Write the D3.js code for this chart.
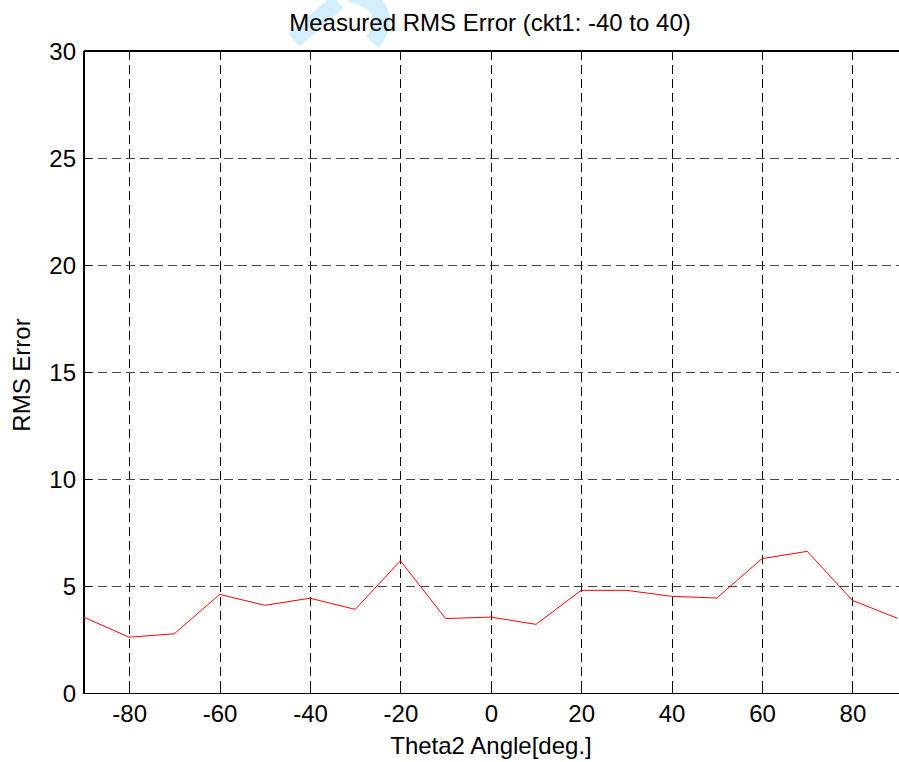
<!DOCTYPE html>
<html>
<head>
<meta charset="utf-8">
<script src="https://cdn.jsdelivr.net/npm/d3@7"></script>
<style>
  html, body { margin: 0; padding: 0; background: #fff; }
  svg { display: block; font-family: "Liberation Sans", Arial, sans-serif; }
</style>
</head>
<body>
<svg id="chart" width="899" height="762"></svg>
<script>
const angles = [-90, -80, -70, -60, -50, -40, -30, -20, -10, 0, 10, 20, 30, 40, 50, 60, 70, 80, 90];
const rmsError = [3.55, 2.62, 2.78, 4.62, 4.11, 4.44, 3.92, 6.19, 3.49, 3.56, 3.22, 4.81, 4.81, 4.53, 4.45, 6.29, 6.63, 4.34, 3.50];
const xTicks = [-80, -60, -40, -20, 0, 20, 40, 60, 80];
const yTicks = [0, 5, 10, 15, 20, 25, 30];
const titleText = "Measured RMS Error (ckt1: -40 to 40)";
const xLabel = "Theta2 Angle[deg.]";
const yLabel = "RMS Error";

const svg = d3.select("#chart");
const pL = 84, pR = 897.6, pT = 51, pB = 693.3;
const FS = 24;

const x = d3.scaleLinear().domain([-90, 90]).range([pL, pR]);
const y = d3.scaleLinear().domain([0, 30]).range([pB, pT]);

// watermark
svg.append("path")
  .attr("d", "M294,40 L338,2 M350,-6 C380,0 392,20 372,42")
  .attr("fill", "none")
  .attr("stroke", "#d3effc")
  .attr("stroke-width", 17);

// grid
const grid = svg.append("g").attr("shape-rendering", "crispEdges");
grid.selectAll(".vg").data(xTicks).enter().append("line")
  .attr("x1", d => Math.round(x(d)) + 0.5).attr("x2", d => Math.round(x(d)) + 0.5)
  .attr("y1", pT).attr("y2", pB)
  .attr("stroke", "#000").attr("stroke-width", 1).attr("stroke-dasharray", "9,5");
grid.selectAll(".hg").data(yTicks.filter(d => d > 0 && d < 30)).enter().append("line")
  .attr("y1", d => Math.round(y(d)) + 0.5).attr("y2", d => Math.round(y(d)) + 0.5)
  .attr("x1", pL).attr("x2", 899)
  .attr("stroke", "#444").attr("stroke-width", 1).attr("stroke-dasharray", "9,5");

// axes with inward ticks
const fmt = d => String(d);
const xAxisB = d3.axisBottom(x).tickValues(xTicks).tickSize(-8).tickPadding(12).tickFormat(fmt);
const gxB = svg.append("g").attr("transform", `translate(0,${pB})`).call(xAxisB);
const xAxisT = d3.axisTop(x).tickValues(xTicks).tickSize(-8).tickFormat("");
const gxT = svg.append("g").attr("transform", `translate(0,${pT})`).call(xAxisT);
const yAxisL = d3.axisLeft(y).tickValues(yTicks).tickSize(-8).tickPadding(8).tickFormat(fmt);
const gyL = svg.append("g").attr("transform", `translate(${pL},0)`).call(yAxisL);

[gxB, gxT, gyL].forEach(g => {
  g.select(".domain").remove();
  g.selectAll("line").attr("stroke", "#000").attr("shape-rendering", "crispEdges");
  g.selectAll("text").attr("font-size", FS).attr("fill", "#000")
    .attr("font-family", "'Liberation Sans', Arial, sans-serif");
});
gyL.selectAll("text").attr("dy", "0.35em");

// frame lines (left, bottom, top)
const frame = svg.append("g").attr("shape-rendering", "crispEdges");
frame.append("line").attr("x1", pL).attr("x2", pL).attr("y1", pT).attr("y2", pB + 1)
  .attr("stroke", "#000").attr("stroke-width", 1.5);
frame.append("line").attr("x1", pL).attr("x2", 899).attr("y1", pB).attr("y2", pB)
  .attr("stroke", "#000").attr("stroke-width", 1.5);
frame.append("line").attr("x1", pL).attr("x2", 899).attr("y1", pT).attr("y2", pT)
  .attr("stroke", "#000").attr("stroke-width", 1.2);

// data line
const line = d3.line().x((d, i) => x(angles[i])).y(d => y(d));
svg.append("path").datum(rmsError)
  .attr("d", line)
  .attr("fill", "none")
  .attr("stroke", "#ff0000")
  .attr("stroke-width", 1);

// title and labels
svg.append("text").attr("x", 490).attr("y", 31).attr("text-anchor", "middle")
  .attr("font-size", FS).attr("fill", "#000").text(titleText);
svg.append("text").attr("x", 491).attr("y", 754).attr("text-anchor", "middle")
  .attr("font-size", FS).attr("fill", "#000").text(xLabel);
svg.append("text").attr("transform", `translate(30,375) rotate(-90)`).attr("text-anchor", "middle")
  .attr("font-size", FS).attr("fill", "#000").text(yLabel);
</script>
</body>
</html>
